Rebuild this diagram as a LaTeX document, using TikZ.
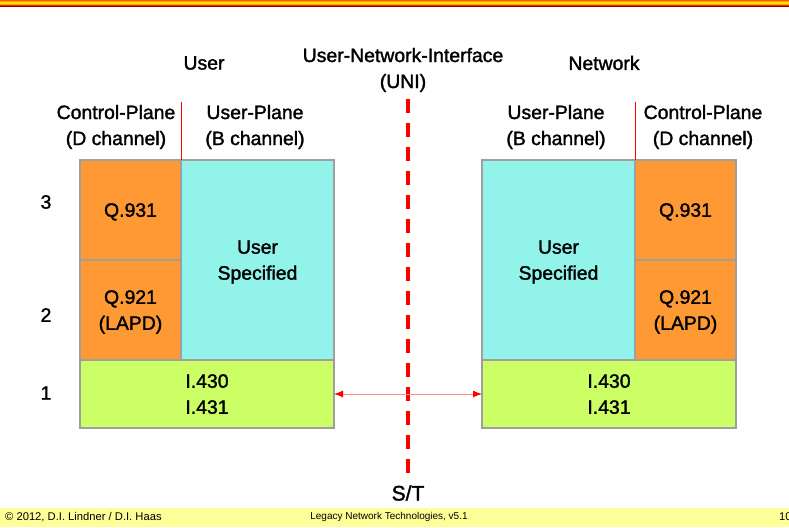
\documentclass[tikz,border=0pt]{standalone}
\usepackage{fontspec}
\setmainfont{Liberation Sans}
\newfontfamily\isdnfam[FakeBold=1.6]{Liberation Sans}
\usepackage{xcolor}
\usetikzlibrary{arrows.meta}

\definecolor{qorange}{RGB}{255,153,51}
\definecolor{ucyan}{RGB}{145,243,234}
\definecolor{phygreen}{RGB}{204,255,102}
\definecolor{footyellow}{RGB}{255,255,153}
\definecolor{stripeA}{RGB}{255,90,0}
\definecolor{stripeB}{RGB}{255,160,0}
\definecolor{stripeC}{RGB}{255,225,0}
\definecolor{stripeD}{RGB}{225,45,0}
\definecolor{stripeE}{RGB}{150,0,0}

\newcommand{\isdnfont}{\isdnfam\fontsize{19.4}{26}\selectfont}
\newcommand{\footfont}{\fontsize{10}{12}\selectfont}

\begin{document}
\begin{tikzpicture}[x=1pt,y=-1pt,
  layerbox/.style={draw=gray!75, line width=1.2pt, inner sep=0pt, outer sep=0pt,
    align=center, font=\isdnfont, text depth=-3pt},
  sigbox/.style={layerbox, fill=qorange, minimum width=101pt, minimum height=100pt},
  userbox/.style={layerbox, fill=ucyan, minimum width=153pt, minimum height=200pt},
  physbox/.style={layerbox, fill=phygreen, minimum width=254pt, minimum height=68pt},
  caption/.style={align=center, font=\isdnfont, inner sep=0pt},
  planeline/.style={draw=red, line width=0.8pt},
  uniline/.style={draw=red, line width=4pt, dash pattern=on 14pt off 10pt},
  linkarrow/.style={draw=red!45, line width=1pt,
    {Latex[length=9pt,width=7pt,color=red]}-{Latex[length=9pt,width=7pt,color=red]}},
  footnote/.style={font=\footfont, inner sep=0pt}]

  \useasboundingbox (0,0) rectangle (789,527);

  % Header stripes
  \fill[stripeA] (0,0) rectangle (789,1.2);
  \fill[stripeB] (0,1.2) rectangle (789,2.4);
  \fill[stripeC] (0,2.4) rectangle (789,3.8);
  \fill[stripeB] (0,3.8) rectangle (789,4.8);
  \fill[stripeD] (0,4.8) rectangle (789,5.8);
  \fill[stripeE] (0,5.8) rectangle (789,7);

  % Footer band
  \fill[footyellow] (0,508) rectangle (789,527);
  \node[footnote, anchor=west, font=\fontsize{11.2}{13}\selectfont] (copy) at (5,517) {© 2012, D.I. Lindner / D.I. Haas};
  \node[footnote] (course) at (389,517) {Legacy Network Technologies, v5.1};
  \node[footnote, anchor=west, font=\fontsize{11.2}{13}\selectfont] (page) at (779,517) {10};

  % User side stack
  \node[sigbox] (q931L) at (130.5,210) {Q.931};
  \node[sigbox] (q921L) at (130.5,310) {Q.921\\(LAPD)};
  \node[userbox] (userL) at (257.5,260) {User\\Specified};
  \node[physbox] (physL) at (207,394) {I.430\\I.431};

  % Network side stack
  \node[userbox] (userR) at (558.5,260) {User\\Specified};
  \node[sigbox] (q931R) at (685.5,210) {Q.931};
  \node[sigbox] (q921R) at (685.5,310) {Q.921\\(LAPD)};
  \node[physbox] (physR) at (609,394) {I.430\\I.431};

  % Layer numbers
  \node[caption] (lay3) at (46,202) {3};
  \node[caption] (lay2) at (46,315) {2};
  \node[caption] (lay1) at (46,393) {1};

  % Headings
  \node[caption] (userHead) at (204,63) {User};
  \node[caption] (uniHead) at (403,70) {User-Network-Interface\\(UNI)};
  \node[caption] (netHead) at (604,63) {Network};
  \node[caption] (cpL) at (116,127) {Control-Plane\\(D channel)};
  \node[caption] (upL) at (255,127) {User-Plane\\(B channel)};
  \node[caption] (upR) at (556,127) {User-Plane\\(B channel)};
  \node[caption] (cpR) at (703,127) {Control-Plane\\(D channel)};

  % Plane separators
  \coordinate (sepL) at (181,102);
  \coordinate (sepR) at (635,102);
  \draw[planeline] (q931L.north east) -- (sepL);
  \draw[planeline] (q931R.north west) -- (sepR);

  % S/T reference point
  \coordinate (uniTop) at (408,99);
  \coordinate (uniBot) at (408,473);
  \draw[uniline] (uniTop) -- (uniBot);
  \node[caption] (stRef) at (408,493) {\fontsize{21}{24}\selectfont S/T};

  % Physical link
  \draw[linkarrow] (physL.east) -- (physR.west);
\end{tikzpicture}
\end{document}
